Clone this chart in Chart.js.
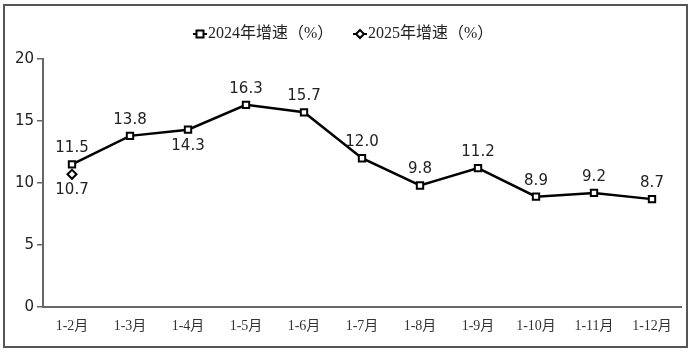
<!DOCTYPE html>
<html>
<head>
<meta charset="utf-8">
<script src="https://cdn.jsdelivr.net/npm/chart.js@4.4.0/dist/chart.umd.min.js"></script>
<style>
    html, body { margin: 0; padding: 0; background: #fff; }
    #wrap { width: 693px; height: 352px; }
</style>
</head>
<body>
<div id="wrap"><canvas id="growthChart" width="693" height="352"></canvas></div>
<script>
const months = ["1-2月", "1-3月", "1-4月", "1-5月", "1-6月", "1-7月", "1-8月", "1-9月", "1-10月", "1-11月", "1-12月"];
const growth2024 = [11.5, 13.8, 14.3, 16.3, 15.7, 12.0, 9.8, 11.2, 8.9, 9.2, 8.7];
const growth2025 = [10.7, null, null, null, null, null, null, null, null, null, null];
const labelBelow2024 = [false, false, true, false, false, false, false, false, false, false, false];
const seriesNames = ["2024年增速（%）", "2025年增速（%）"];
const yTicks = [0, 5, 10, 15, 20];

const numFont = '15px "DejaVu Sans", Verdana, sans-serif';
const cjkFont = '"Liberation Serif", "Noto Sans CJK SC", serif';

// frame around the whole picture + legend drawn by hand
const framePlugin = {
    id: 'frame',
    afterDraw(chart) {
        const ctx = chart.ctx;
        ctx.save();
        ctx.strokeStyle = '#555';
        ctx.lineWidth = 2;
        ctx.strokeRect(4, 5, 683, 342);

        // legend
        const items = [
            { x: 193, style: 'rect', text: seriesNames[0] },
            { x: 353, style: 'rectRot', text: seriesNames[1] }
        ];
        const ly = 34;
        items.forEach(it => {
            ctx.strokeStyle = '#000';
            ctx.lineWidth = 2;
            ctx.beginPath();
            ctx.moveTo(it.x, ly);
            ctx.lineTo(it.x + 14, ly);
            ctx.stroke();
            ctx.fillStyle = '#fff';
            if (it.style === 'rect') {
                ctx.fillRect(it.x + 3.5, ly - 3.5, 7, 7);
                ctx.strokeRect(it.x + 3.5, ly - 3.5, 7, 7);
            } else {
                ctx.beginPath();
                ctx.moveTo(it.x + 7, ly - 4);
                ctx.lineTo(it.x + 11, ly);
                ctx.lineTo(it.x + 7, ly + 4);
                ctx.lineTo(it.x + 3, ly);
                ctx.closePath();
                ctx.fill();
                ctx.stroke();
            }
            ctx.fillStyle = '#222';
            ctx.font = '16px ' + cjkFont;
            ctx.textBaseline = 'middle';
            ctx.textAlign = 'left';
            ctx.fillText(it.text, it.x + 15, ly);
        });
        ctx.restore();
    }
};

// value labels next to the points
const valueLabels = {
    id: 'valueLabels',
    afterDatasetsDraw(chart) {
        const ctx = chart.ctx;
        ctx.save();
        ctx.font = numFont;
        ctx.fillStyle = '#222';
        ctx.textAlign = 'center';
        ctx.textBaseline = 'middle';
        chart.data.datasets.forEach((ds, di) => {
            const meta = chart.getDatasetMeta(di);
            meta.data.forEach((pt, i) => {
                const v = ds.data[i];
                if (v === null) return;
                let below = di === 1 ? true : labelBelow2024[i];
                const dy = below ? 16 : -16;
                ctx.fillText(v.toFixed(1), pt.x, pt.y + dy);
            });
        });
        ctx.restore();
    }
};

new Chart("growthChart", {
    type: "line",
    data: {
        labels: months,
        datasets: [{
            label: seriesNames[0],
            data: growth2024,
            borderColor: '#000',
            borderWidth: 2.5,
            pointStyle: 'rect',
            pointRadius: 4.5,
            pointBorderWidth: 2,
            pointBorderColor: '#000',
            pointBackgroundColor: '#fff',
            tension: 0
        }, {
            label: seriesNames[1],
            data: growth2025,
            borderColor: '#000',
            borderWidth: 2,
            pointStyle: 'rectRot',
            pointRadius: 4.5,
            pointBorderWidth: 2,
            pointBorderColor: '#000',
            pointBackgroundColor: '#fff'
        }]
    },
    options: {
        responsive: false,
        animation: false,
        layout: { padding: { left: 0, right: 12, top: 59, bottom: 0 } },
        plugins: {
            legend: { display: false },
            tooltip: { enabled: false }
        },
        scales: {
            x: {
                offset: true,
                grid: { display: false },
                border: { display: true, color: '#666', width: 2 },
                ticks: {
                    color: '#333',
                    font: { family: cjkFont, size: 14 },
                    maxRotation: 0,
                    autoSkip: false,
                    padding: 3
                },
                afterFit(scale) { scale.height = 45; }
            },
            y: {
                min: 0,
                max: 20,
                afterBuildTicks(scale) { scale.ticks = yTicks.map(v => ({ value: v })); },
                grid: { drawOnChartArea: false, tickLength: 6, color: '#666', lineWidth: 1.5 },
                border: { display: true, color: '#666', width: 2 },
                ticks: {
                    color: '#222',
                    font: { family: '"DejaVu Sans", Verdana, sans-serif', size: 15 },
                    padding: 3
                },
                afterFit(scale) { scale.width = 43; }
            }
        }
    },
    plugins: [framePlugin, valueLabels]
});
</script>
</body>
</html>
